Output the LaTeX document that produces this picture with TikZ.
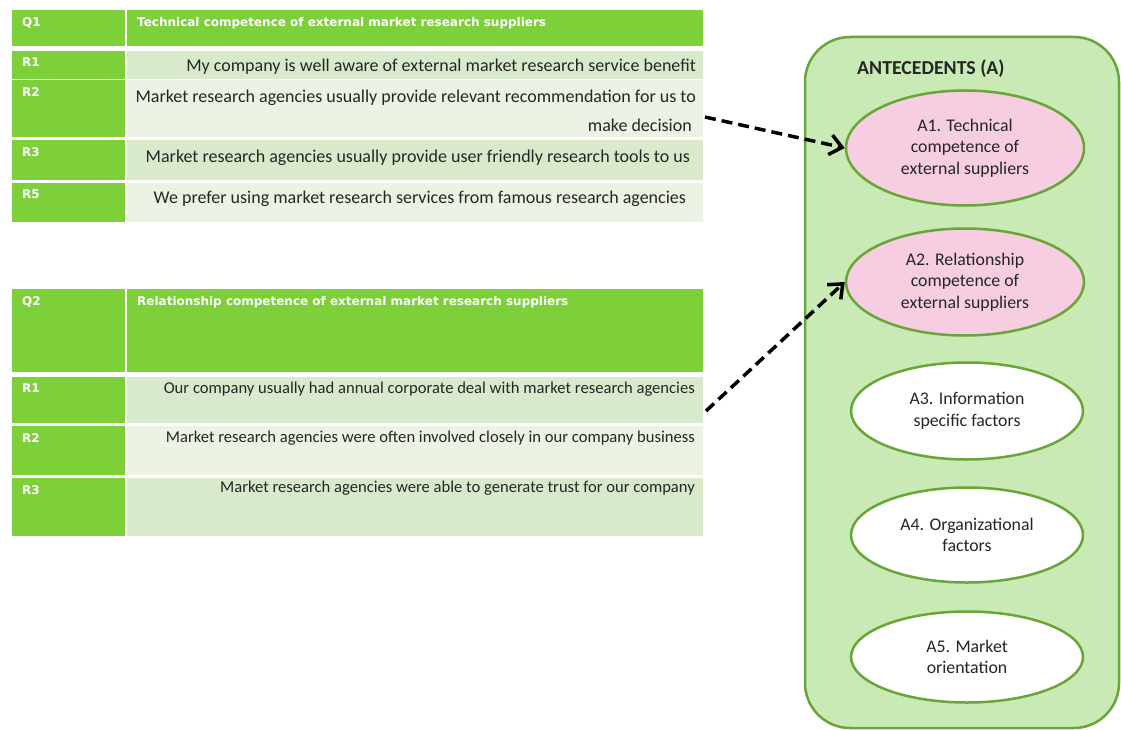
\documentclass[tikz,border=0pt]{standalone}
\usepackage{fontspec}
\setmainfont{Carlito}
\newfontfamily\tabfont{DejaVu Sans}
\usetikzlibrary{positioning, shapes.geometric, arrows.meta}
\definecolor{qgreen}{RGB}{126,208,58}
\definecolor{rowdark}{RGB}{217,234,204}
\definecolor{rowlight}{RGB}{235,244,228}
\definecolor{panelfill}{RGB}{201,234,180}
\definecolor{panelline}{RGB}{104,166,56}
\definecolor{pinkfill}{RGB}{246,205,225}
\definecolor{inktext}{RGB}{38,38,38}
\tikzset{
    labcell/.style={fill=qgreen, anchor=north west, minimum width=113pt, inner sep=0mm},
    txtcell/.style={anchor=north west, minimum width=576pt, inner sep=0mm},
    labtext/.style={anchor=north west, xshift=10pt, yshift=-7pt, inner sep=0mm, text=white, font=\tabfont\bfseries\fontsize{12}{14}\selectfont},
    rowtext/.style={inner sep=0mm, text=inktext, font=\fontsize{18}{21}\selectfont},
    rowtextB/.style={rowtext, font=\fontsize{16.6}{20}\selectfont},
    antec/.style={ellipse, draw=panelline, line width=2.5pt, fill=white, inner sep=0mm, align=center,
        minimum width=232pt, minimum height=95pt, text=inktext, font=\fontsize{17.8}{21.5}\selectfont},
    dasharrow/.style={line width=3.5pt, dash pattern=on 11pt off 6pt, -{Straight Barb[length=12pt, width=20pt]}}
}
% one row of a question table: name, top, height, label, fill
\newcommand{\qrow}[5]{%
  \node[labcell, minimum height=#3, label={[labtext]north west:#4}] (#1l) at (12,#2) {};
  \node[txtcell, minimum height=#3, fill=#5] (#1t) at (127,#2) {};
}

\begin{document}
\begin{tikzpicture}[x=1pt, y=-1pt, node distance=120pt, on grid]
  \useasboundingbox (0,0) rectangle (1121,730);

  % question 1
  \node[labcell, minimum height=36pt, label={[labtext]north west:Q1}] (q1l) at (12,10) {};
  \node[txtcell, minimum height=36pt, fill=qgreen,
        label={[labtext]north west:Technical competence of external market research suppliers}] (q1t) at (127,10) {};
  \qrow{qa1}{51}{28}{R1}{rowdark}
  \qrow{qa2}{80}{57}{R2}{rowlight}
  \qrow{qa3}{140}{40}{R3}{rowdark}
  \qrow{qa5}{183}{39}{R5}{rowlight}
  \node[rowtext, anchor=base east] (ta1) at (696,72) {My company is well aware of external market research service benefit};
  \node[rowtext, anchor=base east] (ta2) at (696,103) {Market research agencies usually provide relevant recommendation for us to};
  \node[rowtext, anchor=base east] (ta2b) at (692,132) {make decision};
  \node[rowtext, anchor=base east] (ta3) at (690,163) {Market research agencies usually provide user friendly research tools to us};
  \node[rowtext, anchor=base east] (ta5) at (686,204) {We prefer using market research services from famous research agencies};

  % question 2
  \node[labcell, minimum height=83pt, label={[labtext]north west:Q2}] (q2l) at (12,289) {};
  \node[txtcell, minimum height=83pt, fill=qgreen,
        label={[labtext]north west:Relationship competence of external market research suppliers}] (q2t) at (127,289) {};
  \qrow{qb1}{377}{46}{R1}{rowdark}
  \qrow{qb2}{426}{49}{R2}{rowlight}
  \qrow{qb3}{478}{58}{R3}{rowdark}
  \node[rowtextB, anchor=base east] (tb1) at (695,393) {Our company usually had annual corporate deal with market research agencies};
  \node[rowtextB, anchor=base east] (tb2) at (695,442) {Market research agencies were often involved closely in our company business};
  \node[rowtextB, anchor=base east] (tb3) at (695,492) {Market research agencies were able to generate trust for our company};

  % antecedents panel
  \begin{scope}
    \clip (0,0) rectangle (1121,730);
    \draw[panelline, fill=panelfill, line width=2.5pt, rounded corners=45pt] (805,37) rectangle (1119,728);
  \end{scope}
  \node[anchor=west, inner sep=0mm, text=inktext, font=\bfseries\fontsize{19.8}{22}\selectfont] (ant) at (857,69) {ANTECEDENTS (A)};

  \node[antec, fill=pinkfill, minimum width=238pt, minimum height=115pt] (a1) at (965,148) {A1. Technical\\competence of\\external suppliers};
  \node[antec, fill=pinkfill, minimum width=238pt, minimum height=107pt, below=134pt of a1] (a2) {A2. Relationship\\competence of\\external suppliers};
  \node[antec, minimum height=97pt, below=129pt of a2, xshift=2pt] (a3) {A3. Information\\specific factors};
  \node[antec, below=124pt of a3] (a4) {A4. Organizational\\factors};
  \node[antec, minimum height=91pt, below=122pt of a4] (a5) {A5. Market\\orientation};

  % links
  \coordinate (s1) at (705,117);
  \coordinate (s2) at (706,411);
  \draw[dasharrow] (s1) -- (a1.west);
  \draw[dasharrow] (s2) -- (a2.west);
\end{tikzpicture}
\end{document}
